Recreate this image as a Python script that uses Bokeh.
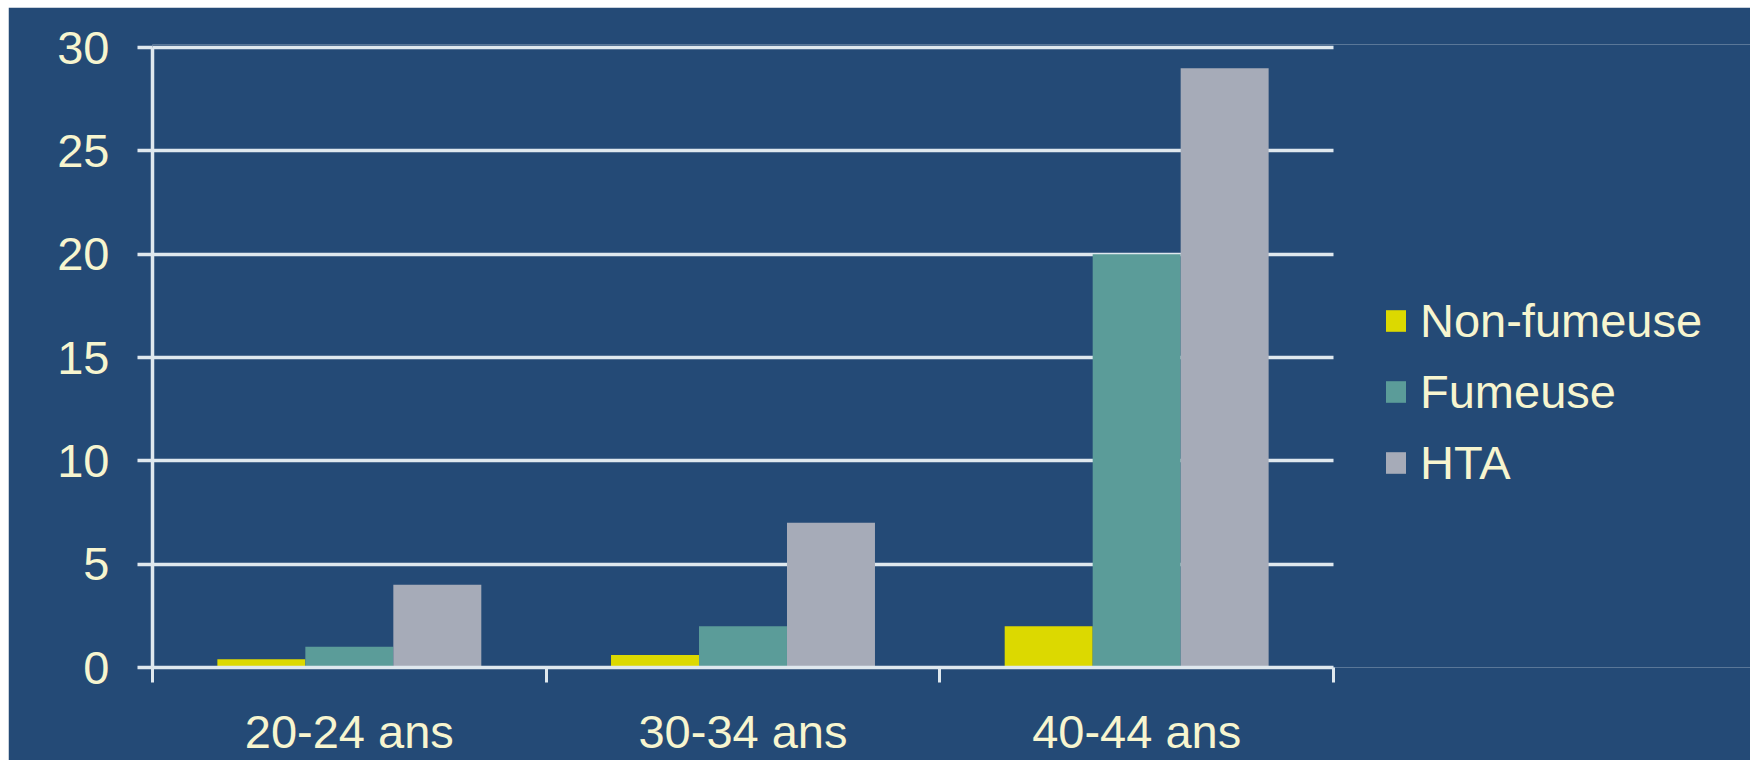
from bokeh.plotting import figure
from bokeh.models import (ColumnDataSource, Range1d, FixedTicker, Legend, LegendItem,
                          BoxAnnotation)
from bokeh.transform import dodge
from bokeh.embed import file_html
from bokeh.resources import INLINE

# ---- data ----
categories = ["20-24 ans", "30-34 ans", "40-44 ans"]
series_names = ["Non-fumeuse", "Fumeuse", "HTA"]
non_fumeuse = [0.4, 0.6, 2.0]
fumeuse = [1.0, 2.0, 20.0]
hta = [4.0, 7.0, 29.0]
y_ticks = [0, 5, 10, 15, 20, 25, 30]

# ---- style ----
BG = "#244a76"
LINE = "#dfe8ee"
TXT = "#f7f5cf"
COLORS = ["#dcd900", "#5b9c99", "#a6abb8"]
FONT = "Liberation Sans"
FS = "47px"
BAR_W = 0.2235

n = len(categories)
centres = [i + 0.5 for i in range(n)]          # category slot centres on the axis scale
edges = [float(i) for i in range(n + 1)]       # category slot boundaries
y_max = y_ticks[-1]

# layout: plot area from x=152 to x=1333 px; the legend sits to its right
FRAME_L, PLOT_R, PAGE_R = 152, 1333, 1750
x_end = n * (PAGE_R - FRAME_L) / (PLOT_R - FRAME_L)
y_end = y_max * 1.005   # a little headroom so the top grid line is not clipped

source = ColumnDataSource(dict(pos=centres, nf=non_fumeuse, fu=fumeuse, hta=hta))

p = figure(x_range=Range1d(0, x_end), y_range=Range1d(0, y_end),
           width=1742, height=753, output_backend="svg", toolbar_location=None,
           min_border_left=144, min_border_right=0,
           min_border_top=37, min_border_bottom=93)
p.margin = (7, 0, 0, 8)
p.background_fill_color = BG
p.border_fill_color = BG
p.outline_line_color = None

renderers = []
for i, (col, name) in enumerate(zip(["nf", "fu", "hta"], series_names)):
    r = p.vbar(x=dodge("pos", (i - 1) * BAR_W, range=p.x_range), top=col, width=BAR_W,
               source=source, fill_color=COLORS[i], line_color=None)
    renderers.append(r)

# y axis
yax = p.yaxis[0]
yax.bounds = (0, y_max)
yax.ticker = FixedTicker(ticks=y_ticks)
yax.axis_line_color = LINE
yax.axis_line_width = 3.5
yax.major_tick_line_color = LINE
yax.major_tick_line_width = 3.5
yax.major_tick_out = 15
yax.major_tick_in = 0
yax.minor_tick_line_color = None
yax.major_label_text_color = TXT
yax.major_label_text_font = FONT
yax.major_label_text_font_size = FS
yax.major_label_standoff = 28

p.xgrid.visible = False
g = p.ygrid[0]
g.ticker = FixedTicker(ticks=[t for t in y_ticks if t > 0])
g.grid_line_color = LINE
g.grid_line_width = 3.5
if "cross_bounds" in g.properties():
    g.cross_bounds = (0, n)
else:
    p.add_layout(BoxAnnotation(left=n, fill_color=BG, fill_alpha=1, line_color=None,
                               level="underlay"))

# x axis: labels at category centres, separator ticks at category edges
xax = p.xaxis[0]
xax.bounds = (0, n)
xax.ticker = FixedTicker(ticks=centres, minor_ticks=edges)
xax.major_label_overrides = {c: lab for c, lab in zip(centres, categories)}
xax.axis_line_color = LINE
xax.axis_line_width = 3.5
xax.major_tick_line_color = None
xax.major_tick_out = 0
xax.major_tick_in = 0
xax.minor_tick_line_color = LINE
xax.minor_tick_line_width = 3
xax.minor_tick_out = 15
xax.minor_tick_in = 0
xax.major_label_text_color = TXT
xax.major_label_text_font = FONT
xax.major_label_text_font_size = FS
xax.major_label_standoff = 22

legend = Legend(items=[LegendItem(label=nm, renderers=[r]) for nm, r in zip(series_names, renderers)],
                location=(1231, 177), orientation="vertical",
                glyph_width=25, glyph_height=27, label_standoff=12, label_height=52,
                spacing=16, padding=0, margin=0,
                label_text_color=TXT, label_text_font=FONT, label_text_font_size=FS,
                background_fill_alpha=0, border_line_alpha=0)
p.add_layout(legend, "center")

open("out.html", "w").write(file_html(p, INLINE))
